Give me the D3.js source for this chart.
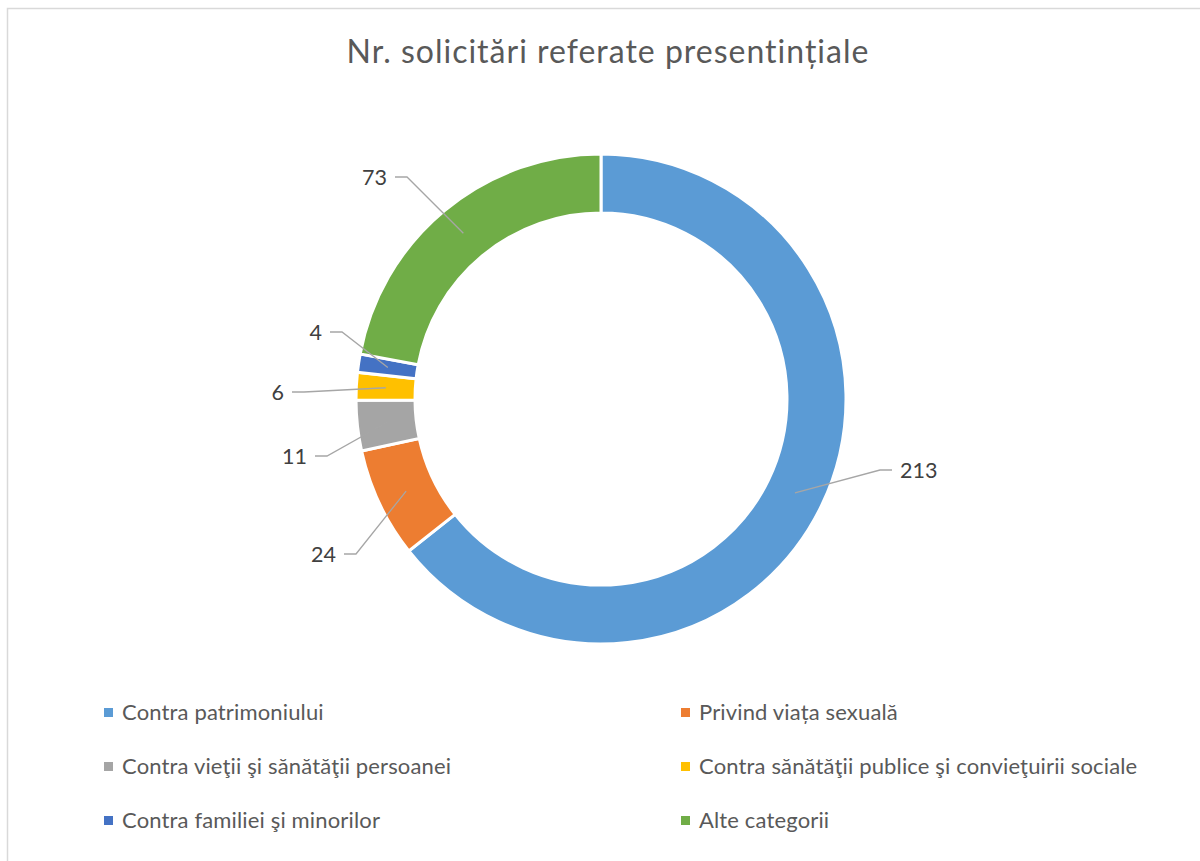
<!DOCTYPE html>
<html><head><meta charset="utf-8">
<script src="https://cdn.jsdelivr.net/npm/d3@7"></script>
<style>
html,body{margin:0;padding:0;background:#fff;}
svg{display:block;}
</style></head>
<body>
<svg id="chart" width="1200" height="861"></svg>
<script>
// ---- data ----
const title = "Nr. solicitări referate presentințiale";
const categories = [
  "Contra patrimoniului",
  "Privind viața sexuală",
  "Contra vieţii şi sănătăţii persoanei",
  "Contra sănătăţii publice şi convieţuirii sociale",
  "Contra familiei şi minorilor",
  "Alte categorii"
];
const values = [213, 24, 11, 6, 4, 73];
const colors = ["#5B9BD5", "#ED7D31", "#A5A5A5", "#FFC000", "#4472C4", "#70AD47"];

// ---- layout (not data) ----
const cx = 601, cy = 399, rOuter = 245, rInner = 186;
// label elbow offsets relative to chart centre, and side
const labelElbow = [[279, 71, 1], [-245, 155, -1], [-274, 57, -1], [-297, -7, -1], [-259, -67, -1], [-194, -222, -1]];
const FONT = "Lato, 'Open Sans', sans-serif";

const svg = d3.select("#chart");

// outer frame
svg.append("rect").attr("x", 7.5).attr("y", 8.5).attr("width", 1300).attr("height", 1000)
  .attr("fill", "#fff").attr("stroke", "#d9d9d9").attr("stroke-width", 1.5);

// title
svg.append("text").attr("x", 608).attr("y", 63).attr("text-anchor", "middle")
  .attr("font-family", FONT).attr("font-size", 32).attr("letter-spacing", 1)
  .attr("fill", "#595959").text(title);

const pie = d3.pie().value(d => d).sort(null);
const arcs = pie(values);
const arc = d3.arc().innerRadius(rInner).outerRadius(rOuter);

const g = svg.append("g").attr("transform", `translate(${cx},${cy})`);
g.selectAll("path.slice").data(arcs).join("path").attr("class", "slice")
  .attr("d", arc).attr("fill", (d, i) => colors[i])
  .attr("stroke", "#fff").attr("stroke-width", 3).attr("stroke-linejoin", "miter");

// leader lines & labels
const lab = g.append("g");
arcs.forEach((d, i) => {
  const [sx, sy] = arc.centroid(d);
  const [ex, ey, side] = labelElbow[i];
  const tx = ex + side * 12;
  lab.append("polyline")
    .attr("points", `${sx},${sy} ${ex},${ey} ${tx},${ey}`)
    .attr("fill", "none").attr("stroke", "#a6a6a6").attr("stroke-width", 1.3);
  lab.append("text").attr("x", tx + side * 8).attr("y", ey)
    .attr("dy", "0.35em")
    .attr("text-anchor", side > 0 ? "start" : "end")
    .attr("font-family", FONT).attr("font-size", 21.5).attr("fill", "#404040")
    .text(values[i]);
});

// legend
const legX = [104, 681], legY = [720, 774, 828];
const leg = svg.append("g");
categories.forEach((c, i) => {
  const x = legX[i % 2], y = legY[Math.floor(i / 2)];
  leg.append("rect").attr("x", x).attr("y", y - 12).attr("width", 9).attr("height", 9).attr("fill", colors[i]);
  leg.append("text").attr("x", x + 18).attr("y", y)
    .attr("font-family", FONT).attr("font-size", 22).attr("letter-spacing", 0.15)
    .attr("fill", "#595959").text(c);
});
</script>
</body></html>
